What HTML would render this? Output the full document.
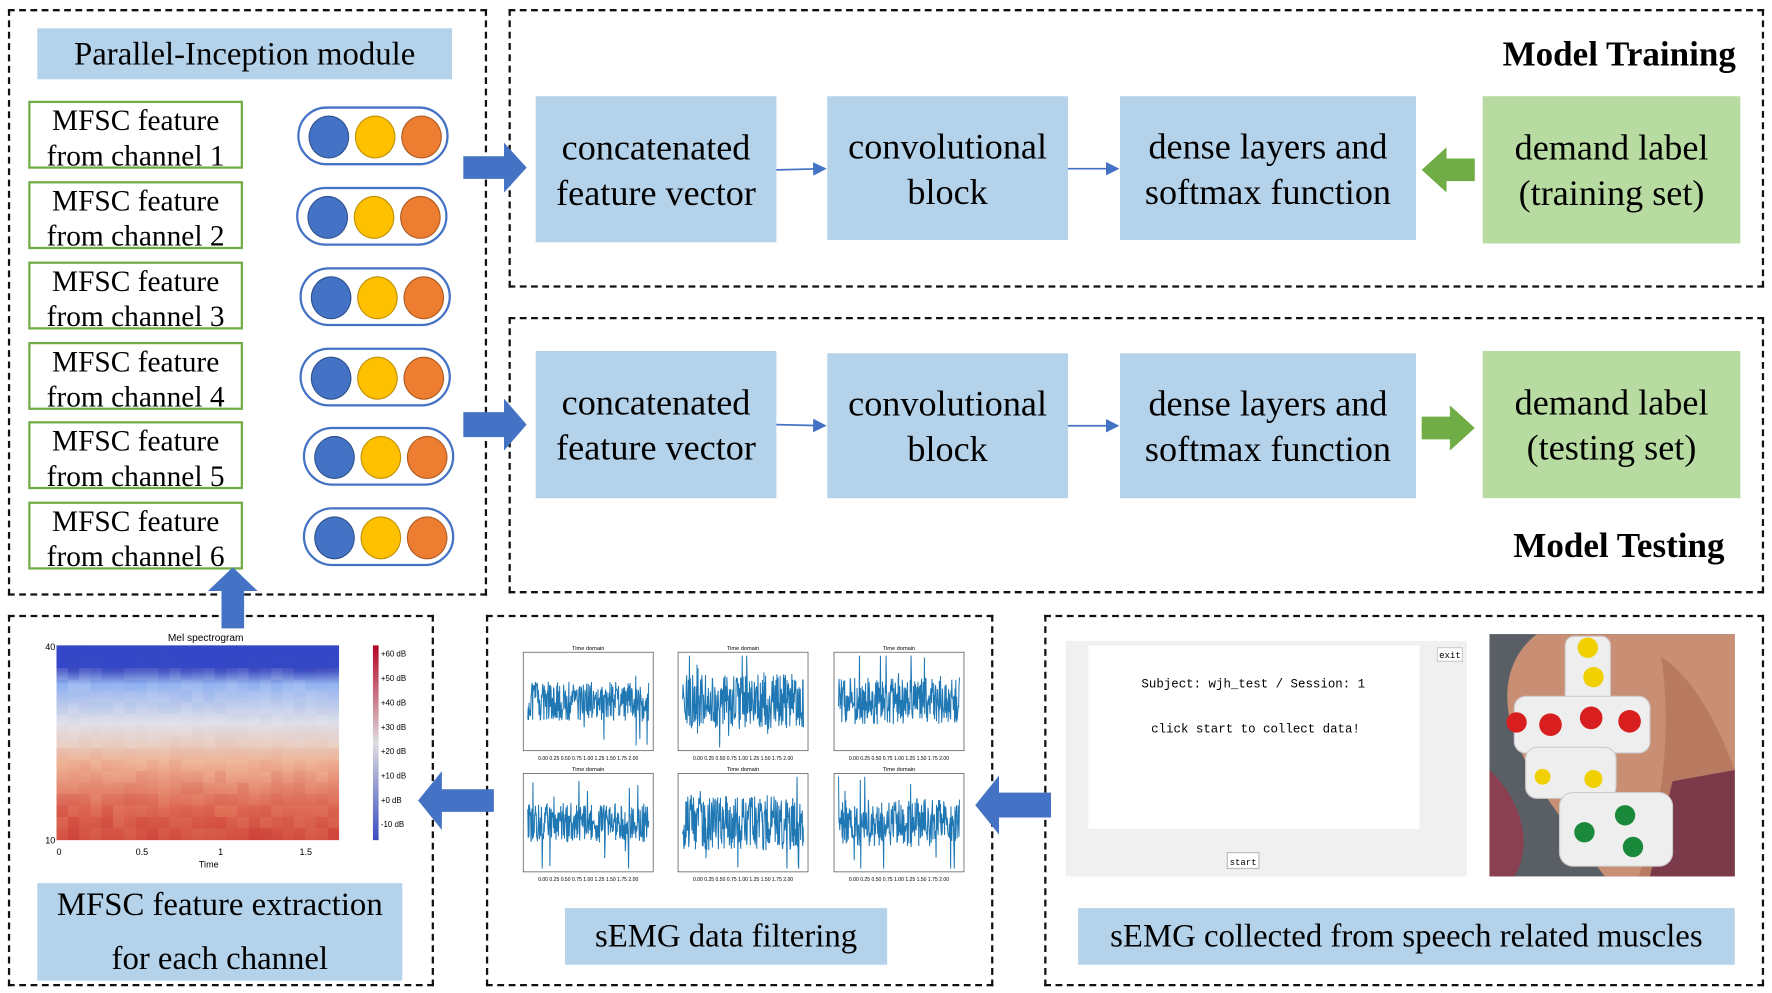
<!DOCTYPE html>
<html><head><meta charset="utf-8"><style>
html,body{margin:0;padding:0;background:#fff;overflow:hidden}
#w{width:1772px;height:993px;position:relative;overflow:hidden}
#c{position:absolute;left:0;top:0;width:1568px;height:877px;transform-origin:0 0;transform:scale(1.1301,1.1323);font-family:"Liberation Serif",serif;color:#000}
.a{position:absolute;box-sizing:border-box}
.d{border:2.5px dashed #111}
.b{background:#b4d2ea;display:flex;align-items:center;justify-content:center;text-align:center;font-size:32px;line-height:40px;white-space:nowrap}
.g{background:#b7dba0;display:flex;align-items:center;justify-content:center;text-align:center;font-size:32px;line-height:40px}
.m{border:2px solid #70ad47;background:#fff;text-align:center;font-size:26px;line-height:31px;white-space:nowrap}
.p{border:2px solid #4472c4;border-radius:26px;background:#fff}
.p i{position:absolute;top:6px;width:34px;height:36px;border-radius:50%;border:1px solid #2f528f}
</style></head><body><div id="w"><div id="c">

<div class="a d" style="left:7px;top:8px;width:424px;height:518px"></div>
<div class="a b" style="left:33px;top:25px;width:367px;height:45px;font-size:29px">Parallel-Inception module</div>

<div id="mf"></div>

<div class="a d" style="left:450px;top:8px;width:1111px;height:246px"></div>
<div class="a" style="left:1290px;top:30px;width:246px;text-align:right;font-weight:bold;font-size:31px">Model Training</div>
<div class="a b" style="left:474px;top:85px;width:213px;height:129px">concatenated<br>feature vector</div>
<div class="a b" style="left:732px;top:85px;width:213px;height:127px">convolutional<br>block</div>
<div class="a b" style="left:991px;top:85px;width:262px;height:127px">dense layers and<br>softmax function</div>
<div class="a g" style="left:1312px;top:85px;width:228px;height:130px">demand label<br>(training set)</div>

<div class="a d" style="left:450px;top:280px;width:1111px;height:244px"></div>
<div class="a" style="left:1280px;top:464px;width:246px;text-align:right;font-weight:bold;font-size:31px">Model Testing</div>
<div class="a b" style="left:474px;top:310px;width:213px;height:130px">concatenated<br>feature vector</div>
<div class="a b" style="left:732px;top:312px;width:213px;height:128px">convolutional<br>block</div>
<div class="a b" style="left:991px;top:312px;width:262px;height:128px">dense layers and<br>softmax function</div>
<div class="a g" style="left:1312px;top:310px;width:228px;height:130px">demand label<br>(testing set)</div>

<div class="a d" style="left:7px;top:543px;width:377px;height:328px"></div>
<div class="a d" style="left:430px;top:543px;width:449px;height:328px"></div>
<div class="a d" style="left:924px;top:543px;width:637px;height:328px"></div>

<div class="a b" style="left:33px;top:780px;width:323px;height:86px;font-size:29px;line-height:48px">MFSC feature extraction<br>for each channel</div>
<div class="a b" style="left:500px;top:802px;width:285px;height:50px;font-size:29px">sEMG data filtering</div>
<div class="a b" style="left:954px;top:802px;width:581px;height:50px;font-size:29px">sEMG collected from speech related muscles</div>

<svg class="a" style="left:0;top:0" width="1568" height="877" id="sv">
<defs>
<marker id="ar" markerWidth="8" markerHeight="8" refX="7" refY="4" orient="auto"><path d="M0,0 L8,4 L0,8z" fill="#4472c4"/></marker>
<linearGradient id="cb" x1="0" y1="1" x2="0" y2="0"><stop offset="0" stop-color="#3b4cc0"/><stop offset=".5" stop-color="#dddddd"/><stop offset="1" stop-color="#b40426"/></linearGradient>
<linearGradient id="sp" x1="0" y1="0" x2="0" y2="1"><stop offset="0" stop-color="#3347c8"/><stop offset=".13" stop-color="#3b4cc0"/><stop offset=".2" stop-color="#8fb0f0"/><stop offset=".4" stop-color="#dcdde6"/><stop offset=".6" stop-color="#f0b89a"/><stop offset=".85" stop-color="#e07058"/><stop offset="1" stop-color="#d65a48"/></linearGradient>
</defs>
<line x1="687" y1="150" x2="730" y2="149" stroke="#4472c4" stroke-width="1.5" marker-end="url(#ar)"/>
<line x1="945" y1="149" x2="989" y2="149" stroke="#4472c4" stroke-width="1.5" marker-end="url(#ar)"/>
<line x1="687" y1="375" x2="730" y2="376" stroke="#4472c4" stroke-width="1.5" marker-end="url(#ar)"/>
<line x1="945" y1="376" x2="989" y2="376" stroke="#4472c4" stroke-width="1.5" marker-end="url(#ar)"/>
<path d="M410,138 H446 V126 L466,148 L446,170 V158 H410z" fill="#4472c4"/>
<path d="M410,364 H446 V352 L466,375 L446,398 V386 H410z" fill="#4472c4"/>
<path d="M196,555 V522 H184 L206,501 L228,522 H216 V555z" fill="#4472c4"/>
<path d="M437,697 H391 V681 L370,707 L391,733 V717 H437z" fill="#4472c4"/>
<path d="M930,700 H884 V685 L863,711 L884,737 V722 H930z" fill="#4472c4"/>
<path d="M1305,140 H1280 V130 L1258,150 L1280,170 V160 H1305z" fill="#70ad47"/>
<path d="M1258,368 H1283 V358 L1305,378 L1283,398 V388 H1258z" fill="#70ad47"/>
<text x="182" y="566" font-size="9" font-family="Liberation Sans" text-anchor="middle">Mel spectrogram</text>
<rect x="50" y="570" width="250" height="172" fill="url(#sp)"/>
<g id="spg"></g>
<rect x="330" y="570" width="5" height="172" fill="url(#cb)"/>
<text x="40" y="574" font-size="8" font-family="Liberation Sans">40</text>
<text x="40" y="745" font-size="8" font-family="Liberation Sans">10</text>
<text x="50" y="755" font-size="8" font-family="Liberation Sans">0</text>
<text x="120" y="755" font-size="8" font-family="Liberation Sans">0.5</text>
<text x="193" y="755" font-size="8" font-family="Liberation Sans">1</text>
<text x="265" y="755" font-size="8" font-family="Liberation Sans">1.5</text>
<text x="176" y="766" font-size="8" font-family="Liberation Sans">Time</text>
<g font-size="7" font-family="Liberation Sans" id="cbl"></g>
<g id="plots"></g>
<rect x="943" y="560" width="355" height="214" fill="#f0f0f0"/>
<rect x="943" y="560" width="355" height="6" fill="#fff"/>
<rect x="963" y="570" width="293" height="162" fill="#fff"/>
<rect x="1272" y="572" width="22" height="12" fill="#fff" stroke="#ccc"/>
<text x="1283" y="581" font-size="8" font-family="Liberation Mono" text-anchor="middle">exit</text>
<text x="1109" y="607" font-size="11" font-family="Liberation Mono" text-anchor="middle">Subject: wjh_test / Session: 1</text>
<text x="1111" y="647" font-size="11" font-family="Liberation Mono" text-anchor="middle">click start to collect data!</text>
<rect x="1086" y="753" width="28" height="14" fill="#fff" stroke="#bbb"/>
<text x="1100" y="764" font-size="8" font-family="Liberation Mono" text-anchor="middle">start</text>
<rect x="1318" y="560" width="217" height="214" fill="#5a5f66"/>
<path d="M1360,560 L1535,560 L1535,774 L1420,774 C1380,720 1345,680 1335,630 C1330,600 1340,575 1360,560z" fill="#c98f74"/>
<path d="M1470,580 C1500,600 1520,640 1535,680 V774 H1450 C1470,720 1480,650 1470,580z" fill="#b87a60"/>
<path d="M1318,680 C1340,700 1360,740 1340,774 H1318z" fill="#8a4050"/>
<path d="M1480,690 L1535,680 V774 H1460z" fill="#7a3a4a"/>
<g fill="#eeeeee" stroke="#ccc">
<rect x="1385" y="562" width="40" height="70" rx="8"/>
<rect x="1340" y="615" width="120" height="50" rx="10"/>
<rect x="1350" y="660" width="80" height="45" rx="10"/>
<rect x="1380" y="700" width="100" height="65" rx="12"/>
</g>
<g>
<circle cx="1405" cy="572" r="9" fill="#f0d000"/><circle cx="1410" cy="598" r="9" fill="#f0d000"/>
<circle cx="1342" cy="638" r="9" fill="#d81e1e"/><circle cx="1372" cy="640" r="10" fill="#d81e1e"/><circle cx="1408" cy="634" r="10" fill="#d81e1e"/><circle cx="1442" cy="637" r="10" fill="#d81e1e"/>
<circle cx="1365" cy="686" r="7" fill="#f0d000"/><circle cx="1410" cy="688" r="8" fill="#f0d000"/>
<circle cx="1438" cy="720" r="9" fill="#1a8a3a"/><circle cx="1402" cy="735" r="9" fill="#1a8a3a"/><circle cx="1445" cy="748" r="9" fill="#1a8a3a"/>
</g>
</svg>
<script>
var h='';
var ys=[89,160,231,302,372,443];
var px=[263,262,265,265,268,268];
for(var k=0;k<6;k++){
h+='<div class="a m" style="left:25px;top:'+ys[k]+'px;width:190px;height:60px">MFSC feature<br>from channel '+(k+1)+'</div>';
var x=px[k];
h+='<div class="a p" style="left:'+x+'px;top:'+(ys[k]+5)+'px;width:134px;height:52px">'+
'<i style="left:8px;background:#4472c4"></i><i style="left:49px;background:#ffc000;border-color:#bf9000"></i><i style="left:90px;background:#ed7d31;border-color:#ae5a21"></i></div>';
}
document.getElementById('mf').outerHTML=h;
var s=12345;function r(){s=(s*16807)%2147483647;return s/2147483647;}
var g='';
for(var i=0;i<25;i++)for(var j=0;j<17;j++){
var y=570+j*10.1,x=50+i*10;
if(j<2){g+='<rect x="'+x+'" y="'+y+'" width="10" height="10.2" fill="#3347c8" opacity="'+(0.5+r()*0.5)+'"/>';continue;}
var t=j/16,red=t>0.5?(t-0.5)*0.7*r():0;
g+='<rect x="'+x+'" y="'+y+'" width="10" height="10.2" fill="'+(t>0.5?'#c01a20':'#ffffff')+'" opacity="'+(t>0.5?red:0.15*r())+'"/>';}
document.getElementById('spg').innerHTML=g;
var cl='';var lb=['+60 dB','+50 dB','+40 dB','+30 dB','+20 dB','+10 dB','+0 dB','-10 dB'];
for(var i=0;i<8;i++)cl+='<text x="337" y="'+(580+i*21.5)+'">'+lb[i]+'</text>';
document.getElementById('cbl').innerHTML=cl;
var p='';var cols=[463,600,738],rows=[576,683];
var amps=[[.5,.7,.6],[.5,.7,.6]];
for(var a=0;a<2;a++)for(var b=0;b<3;b++){
var x0=cols[b],y0=rows[a],w=115,hh=87;
p+='<text x="'+(x0+w/2)+'" y="'+(y0-2)+'" font-size="5" text-anchor="middle" font-family="Liberation Sans">Time domain</text>';
p+='<rect x="'+x0+'" y="'+y0+'" width="'+w+'" height="'+hh+'" fill="#fff" stroke="#444" stroke-width="0.6"/>';
var pts='',cy=y0+hh/2;
for(var n=0;n<=300;n++){var xx=x0+4+n*(w-8)/300;var amp=amps[a][b]*hh*(r()<0.05?1.2:0.5);var yy=cy+(r()-0.5)*amp*1.6;yy=Math.max(y0+3,Math.min(y0+hh-3,yy));pts+=xx.toFixed(1)+','+yy.toFixed(1)+' ';}
p+='<polyline points="'+pts+'" fill="none" stroke="#1f77b4" stroke-width="0.9"/>';
p+='<text x="'+(x0+w/2)+'" y="'+(y0+hh+8)+'" font-size="4.5" text-anchor="middle" font-family="Liberation Sans">0.00 0.25 0.50 0.75 1.00 1.25 1.50 1.75 2.00</text>';
}
document.getElementById('plots').innerHTML=p;
</script>
</div></div></body></html>
